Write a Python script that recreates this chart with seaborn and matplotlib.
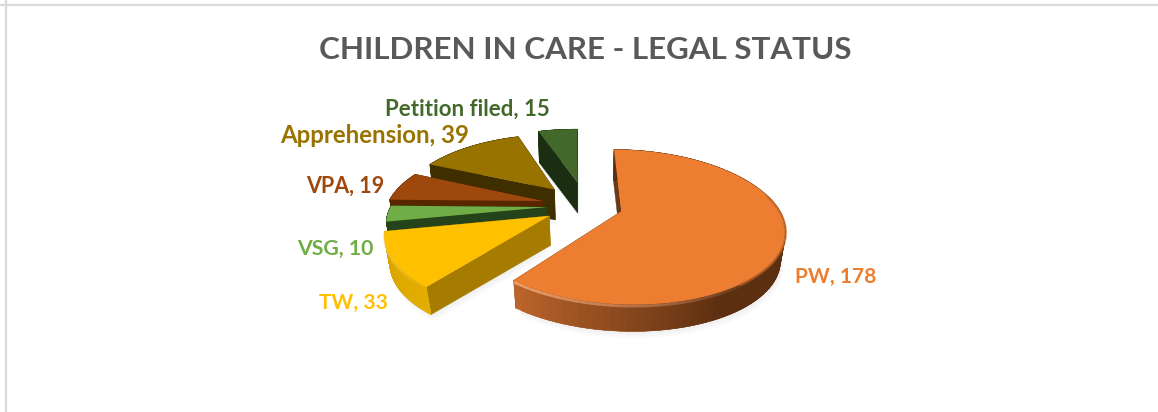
import numpy as np
import matplotlib
matplotlib.use("Agg")
import matplotlib.pyplot as plt
import matplotlib.transforms as mtransforms
from matplotlib.colors import to_rgb
import seaborn as sns

categories = ["PW", "TW", "VSG", "VPA", "Apprehension", "Petition filed"]
counts = [178, 33, 10, 19, 39, 15]
face_colors = ["#ED7D31", "#FFC000", "#70AD47", "#9E480E", "#997300", "#43682B"]
title_text = "CHILDREN IN CARE - LEGAL STATUS"

# Projection of the pie plane on to the canvas, in canvas pixels
CX, CY = 586.0, 205.5
SX, SY = 156.0, 72.0
TILT = 0.20
THICK = 30.0
SHRINK = 0.025
SHEAR = -3.0


def project(x, y, z=0.0):
    x, y = np.asarray(x, float), np.asarray(y, float)
    w = 1 + TILT * y + SHRINK * z
    return CX + (SX * x + SHEAR * y) / w, CY - SY * y / w + THICK * z


class TiltedDisc(mtransforms.Transform):
    input_dims = output_dims = 2
    is_affine = False

    def transform_non_affine(self, values):
        values = np.asarray(values, float)
        return np.column_stack(project(values[:, 0], values[:, 1]))


def mix(a, b, t):
    a, b = np.array(to_rgb(a)), np.array(to_rgb(b))
    return tuple(a + (b - a) * float(np.clip(t, 0, 1)))


sns.set_theme(style="white")
plt.rcParams["font.family"] = ["Lato", "DejaVu Sans"]

fig = plt.figure(figsize=(11.58, 4.12), dpi=100, facecolor="white")
ax = fig.add_axes([0, 0, 1, 1])

explode = [0.235, 0.27, 0.25, 0.285, 0.31, 0.35]
wedges, _ = ax.pie(counts, explode=explode, colors=sns.color_palette(face_colors),
                   startangle=89.5, counterclock=False)
ax.set_aspect("auto")
ax.set_xlim(0, 1158)
ax.set_ylim(412, 0)

disc = TiltedDisc() + ax.transData

# Per-slice wall colours: radial start wall, radial end wall, arc left end, arc right end
walls = [
    ("#6B3A15", "#6B3A15", "#BC642B", "#5C2F11"),
    ("#A67C00", "#A67C00", "#D6A300", "#E3AE00"),
    ("#25431A", "#25431A", "#25431A", "#25431A"),
    ("#5A2600", "#5A2600", "#5A2600", "#5A2600"),
    ("#3F2F00", "#3F2F00", "#3F2F00", "#3F2F00"),
    ("#1C2E12", "#1C2E12", "#1C2E12", "#1C2E12"),
]
rims = ["#F7AE7C", "#FFD862", None, None, None, None]


def wall_quad(xa, ya, xb, yb, color, z):
    x0, y0 = project([xa, xb], [ya, yb], 0)
    x1, y1 = project([xb, xa], [yb, ya], 1)
    ax.fill(np.r_[x0, x1], np.r_[y0, y1], color=color, lw=0.3, zorder=z)


order = [5, 4, 3, 2, 1, 0]
for rank, i in enumerate(order):
    w = wedges[i]
    z = 10 + rank * 5
    cx, cy = w.center
    t1, t2 = np.radians(w.theta1), np.radians(w.theta2)
    start, end, arc_a, arc_b = walls[i]

    # soft shadow on the ground under the slice
    th = np.linspace(t1, t2, 80)
    xs = np.r_[cx, cx + np.cos(th)]
    ys = np.r_[cy, cy + np.sin(th)]
    gx, gy = project(xs, ys, 1)
    for off, alpha in [(7, 0.025), (5, 0.03), (3, 0.04)]:
        ax.fill(gx + off * 0.4, gy + off, color="#7F7F7F", alpha=alpha, lw=0, zorder=5)

    # radial walls
    wall_quad(cx, cy, cx + np.cos(t2), cy + np.sin(t2), end, z)
    wall_quad(cx, cy, cx + np.cos(t1), cy + np.sin(t1), start, z + 1)

    # outer curved wall, shaded along the arc; each strip runs under the next one
    edges = np.linspace(t1, t2, 90)
    step = edges[1] - edges[0]
    span = np.radians(65.0) if i == 0 else t2 - t1
    for k, a in enumerate(edges[:-1]):
        b = min(a + 2 * step, t2)
        shade = mix(arc_a, arc_b, (a - t1) / span)
        wall_quad(cx + np.cos(a), cy + np.sin(a), cx + np.cos(b), cy + np.sin(b), shade, z + 2)

    # lit bevel along the front rim, fading towards the far end
    if rims[i] is not None:
        tr = np.linspace(t1, min(t2, t1 + np.radians(80)), 40)
        rx, ry = project(cx + np.cos(tr), cy + np.sin(tr), 0.06)
        for k in range(len(tr) - 1):
            ax.plot(rx[k:k + 2], ry[k:k + 2], color=rims[i], lw=2.0,
                    alpha=0.8 * (1 - k / len(tr)), solid_capstyle="butt", zorder=z + 3)

    # the far side of the large slice carries a darker edge instead
    if i == 0:
        tr = np.linspace(np.radians(-55), np.radians(12), 40)
        rx, ry = project(cx + np.cos(tr), cy + np.sin(tr), 0.02)
        ax.plot(rx, ry, color="#B9632A", lw=1.8, alpha=0.7, zorder=z + 5)

    w.set_transform(disc)
    w.set_edgecolor("none")
    w.set_zorder(z + 4)

# Frame along the top and left of the canvas
ax.axvline(5.5, color="#D9D9D9", lw=1.6, zorder=1)
ax.axhline(4.5, color="#D9D9D9", lw=1.6, zorder=1)

ax.text(585.5, 50, title_text, color="#595959", fontsize=22.6, fontweight="bold",
        ha="center", va="center", zorder=40)

label_spots = [(836, 277), (353, 303), (335, 249), (345, 186), (375, 135.5), (467, 109)]
label_sizes = [15, 15, 15.3, 15.5, 17.3, 16]
for (lx, ly), name, n, col, fs in zip(label_spots, categories, counts, face_colors, label_sizes):
    ax.text(lx, ly, f"{name}, {n}", color=col, fontsize=fs, fontweight="bold",
            ha="center", va="center", zorder=40)

ax.axis("off")
fig.savefig("out.png", dpi=100, facecolor="white")
